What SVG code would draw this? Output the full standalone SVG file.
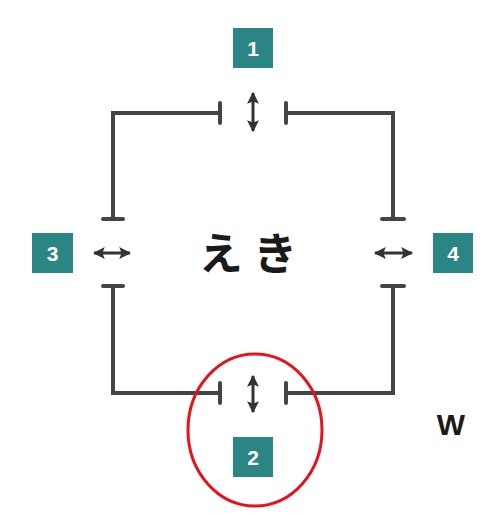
<svg xmlns="http://www.w3.org/2000/svg" width="482" height="513" viewBox="0 0 482 513">
<style>
.box{fill:#2b8584}
.num{fill:#fff;font-family:"Liberation Sans",Arial,sans-serif;font-weight:bold;font-size:21px;text-anchor:middle}
.wire{fill:none;stroke:#444;stroke-width:4;stroke-linecap:round;stroke-linejoin:miter}
.arr{fill:none;stroke:#333;stroke-width:3;marker-start:url(#ah);marker-end:url(#ah)}
</style>
<defs>
<marker id="ah" viewBox="0 0 10 10" refX="9" refY="5" markerWidth="4" markerHeight="4.2" orient="auto-start-reverse" markerUnits="strokeWidth">
<path d="M0,0 L10,5 L0,10 L2,5 Z" fill="#333"/>
</marker>
</defs>
<rect width="482" height="513" fill="#fff"/>
<g id="connectors">
<path class="wire" d="M220,113 H113 V219 M103,219 H123 M220,103 V123"/>
<path class="wire" d="M286,113 H393 V219 M382,219 H404 M286,103 V123"/>
<path class="wire" d="M220,393 H113 V286 M103,286 H123 M220,383 V403"/>
<path class="wire" d="M286,393 H393 V286 M382,286 H404 M286,383 V403"/>
<line class="arr" x1="253" y1="93" x2="253" y2="131"/>
<line class="arr" x1="253" y1="376" x2="253" y2="412"/>
<line class="arr" x1="94" y1="253" x2="130" y2="253"/>
<line class="arr" x1="375" y1="253" x2="412" y2="253"/>
</g>
<g id="node1"><rect class="box" x="233" y="28" width="40" height="40"/><text class="num" x="253" y="55.5">1</text></g>
<g id="node2"><rect class="box" x="233" y="437" width="40" height="40"/><text class="num" x="253" y="464.5">2</text></g>
<g id="node3"><rect class="box" x="32" y="233" width="41" height="40"/><text class="num" x="52.5" y="260.5">3</text></g>
<g id="node4"><rect class="box" x="433" y="233" width="40" height="40"/><text class="num" x="453" y="260.5">4</text></g>
<g id="center"><text x="254" y="270" font-family="'Noto Sans CJK JP','Noto Sans CJK SC',sans-serif" font-weight="bold" font-size="44" letter-spacing="12" text-anchor="middle" fill="#1a1a1a">えき</text></g>
<g id="w"><text x="451" y="435" font-family="'Liberation Sans',Arial,sans-serif" font-weight="bold" font-size="30" text-anchor="middle" fill="#1a1a1a">W</text></g>
<ellipse cx="255" cy="430" rx="67" ry="76" fill="none" stroke="#e8111a" stroke-width="3"/>
</svg>
